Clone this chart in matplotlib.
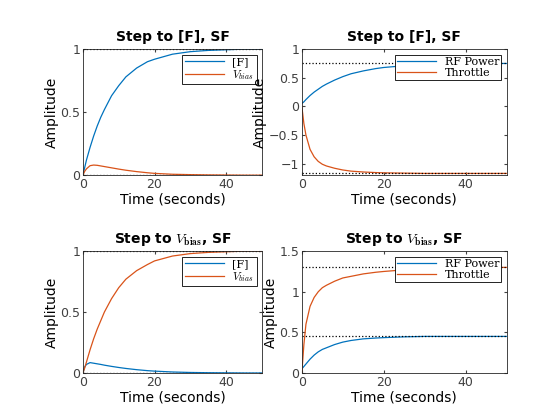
import matplotlib.pyplot as plt
from matplotlib.ticker import FuncFormatter

t = [0, 0.5, 1, 2, 3, 4, 5, 6, 8, 10, 12, 15, 18, 20, 25, 30, 35, 40, 45, 50]

f_f = [0, 0.06, 0.12, 0.22, 0.31, 0.39, 0.46, 0.52, 0.63, 0.71, 0.78, 0.85, 0.90, 0.92, 0.96, 0.98, 0.99, 0.995, 1.0, 1.0]
f_vb = [0, 0.03, 0.05, 0.075, 0.08, 0.078, 0.073, 0.068, 0.058, 0.048, 0.039, 0.028, 0.019, 0.014, 0.007, 0.004, 0.002, 0.001, 0, 0]

f_rf = [0.05, 0.08, 0.12, 0.19, 0.25, 0.30, 0.35, 0.39, 0.46, 0.52, 0.57, 0.62, 0.66, 0.68, 0.71, 0.73, 0.74, 0.745, 0.75, 0.75]
f_th = [0, -0.3, -0.5, -0.75, -0.88, -0.96, -1.01, -1.04, -1.08, -1.11, -1.13, -1.145, -1.155, -1.16, -1.165, -1.17, -1.17, -1.17, -1.17, -1.17]

v_f = [0, 0.05, 0.07, 0.085, 0.08, 0.075, 0.07, 0.064, 0.054, 0.045, 0.037, 0.027, 0.019, 0.015, 0.008, 0.004, 0.002, 0.001, 0, 0]
v_vb = [0, 0.04, 0.09, 0.19, 0.28, 0.36, 0.43, 0.50, 0.61, 0.70, 0.77, 0.84, 0.89, 0.92, 0.96, 0.98, 0.99, 0.995, 1.0, 1.0]

v_rf = [0.05, 0.08, 0.11, 0.17, 0.22, 0.26, 0.29, 0.31, 0.35, 0.38, 0.40, 0.42, 0.43, 0.435, 0.445, 0.45, 0.45, 0.45, 0.45, 0.45]
v_th = [0, 0.35, 0.6, 0.82, 0.93, 1.0, 1.05, 1.08, 1.13, 1.17, 1.19, 1.22, 1.24, 1.25, 1.27, 1.285, 1.29, 1.295, 1.3, 1.3]

blue = '#0072BD'
orange = '#D95319'
plt.rcParams['font.family'] = ['DejaVu Sans']
plt.rcParams['mathtext.fontset'] = 'cm'

fig = plt.figure(figsize=(5.6, 4.2), dpi=100)
boxes = [[0.148, 0.583, 0.32, 0.30], [0.539, 0.583, 0.366, 0.30],
         [0.148, 0.112, 0.32, 0.29], [0.539, 0.112, 0.366, 0.29]]
titles = ['Step to [F], SF', 'Step to [F], SF',
          r'Step to $V_{\mathbf{bias}}$, SF', r'Step to $V_{\mathbf{bias}}$, SF']
data = [(f_f, f_vb), (f_rf, f_th), (v_f, v_vb), (v_rf, v_th)]
labels = [('[F]', r'$V_{bias}$'), ('RF Power', 'Throttle')] * 2
ylims = [(0, 1), (-1.2, 1), (0, 1), (0, 1.5)]
yticks = [[0, 0.5, 1], [-1, -0.5, 0, 0.5, 1], [0, 0.5, 1], [0, 0.5, 1, 1.5]]
fmt = FuncFormatter(lambda v, p: ('%g' % v).replace('-', '\u2212'))

for i in range(4):
    ax = fig.add_axes(boxes[i])
    a, b = data[i]
    ax.plot(t, a, color=blue, lw=0.9, label=labels[i][0])
    ax.plot(t, b, color=orange, lw=0.9, label=labels[i][1])
    for s in (a[-1], b[-1]):
        ax.axhline(s, color='k', ls=':', lw=0.9)
    ax.set_xlim(0, 50)
    ax.set_ylim(*ylims[i])
    ax.set_yticks(yticks[i])
    ax.set_xticks([0, 20, 40])
    ax.yaxis.set_major_formatter(fmt)
    ax.set_title(titles[i], fontsize=10, fontweight='bold')
    ax.set_xlabel('Time (seconds)', fontsize=10, labelpad=1)
    ax.set_ylabel('Amplitude', fontsize=10, labelpad=1)
    ax.tick_params(labelsize=9, colors='#404040', direction='in', length=2,
                   top=True, right=True, pad=2)
    for sp in ax.spines.values():
        sp.set_color('#262626')
        sp.set_linewidth(0.6)
    leg = ax.legend(loc='upper right', fancybox=False, framealpha=1,
                    edgecolor='k', borderpad=0.2, handlelength=3.5,
                    labelspacing=0.1, prop={'family': 'DejaVu Serif', 'size': 8})
    leg.get_frame().set_linewidth(0.6)

fig.savefig('out.png')
